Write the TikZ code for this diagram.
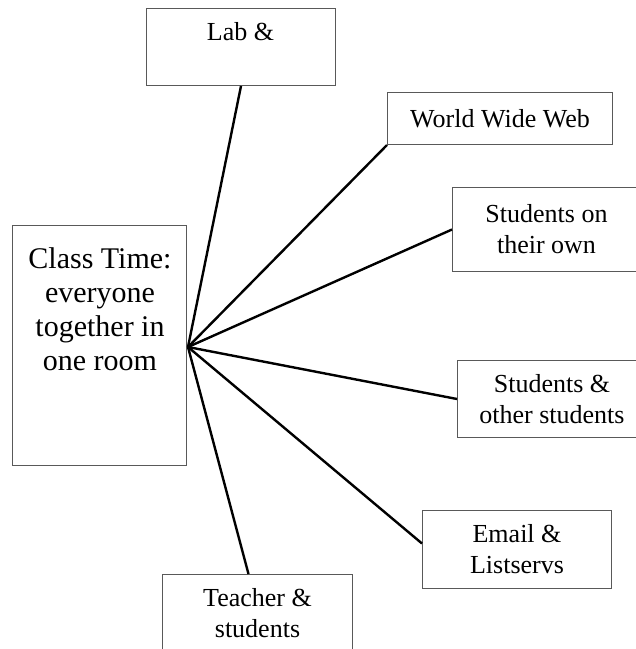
\documentclass[tikz,border=0pt]{standalone}
\usepackage{fontspec}
\setmainfont{Liberation Serif}
\begin{document}
\begin{tikzpicture}[x=1pt,y=-1pt,
  box/.style={draw=black!65, line width=1pt, fill=white, inner sep=0pt,
              anchor=north west, align=center,
              font=\fontsize{26}{31}\selectfont},
  txt/.style={inner sep=0pt, align=center},
  spoke/.style={draw=black, line width=2.4pt}]
\useasboundingbox (0,0) rectangle (636,649);
\clip (0,0) rectangle (636,649);

% boxes around the hub
\node[box, minimum width=189pt, minimum height=77pt] (lab) at (146,8) {};
\node[txt, font=\fontsize{26}{31}\selectfont] (labtext) at (240.5,32) {Lab \&};
\node[box, minimum width=225pt, minimum height=52pt] (www) at (387,92) {World Wide Web};
\node[box, minimum width=188pt, minimum height=84pt] (own) at (452,187) {Students on\\their own};
\node[box, minimum width=189pt, minimum height=77pt] (other) at (457,360) {Students \&\\other students};
\node[box, minimum width=189pt, minimum height=78pt] (email) at (422,510) {Email \&\\Listservs};
\node[box, minimum width=190pt, minimum height=78pt] (teacher) at (162,574) {Teacher \&\\students};

% central box
\node[box, minimum width=174pt, minimum height=240pt] (class) at (12,225) {};
\node[txt, font=\fontsize{30}{34}\selectfont] (classtext) at (100,309)
  {Class Time:\\everyone\\together in\\one room};

% spokes from the hub
\coordinate (hub) at (188,347);
\draw[spoke] (hub) -- (lab.south);
\draw[spoke] (hub) -- (www.south west);
\draw[spoke] (hub) -- (own.west);
\draw[spoke] (hub) -- (other.west);
\draw[spoke] (hub) -- ([yshift=6pt]email.west);
\draw[spoke] (hub) -- ([xshift=-9pt]teacher.north);
\end{tikzpicture}
\end{document}
